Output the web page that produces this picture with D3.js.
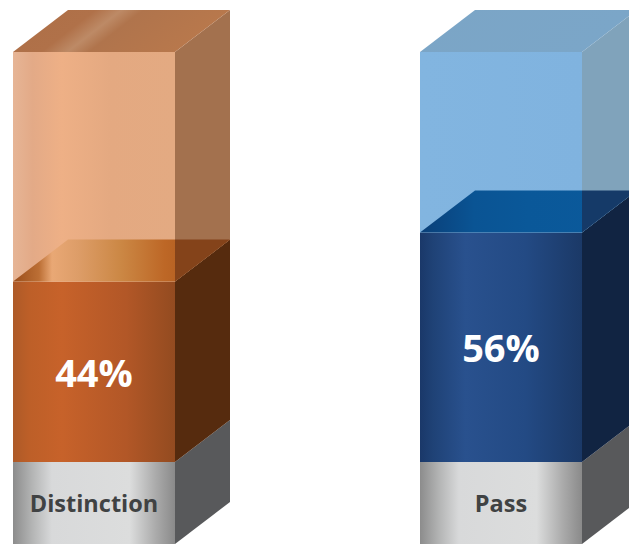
<!DOCTYPE html>
<html>
<head>
<meta charset="utf-8">
<script src="https://cdnjs.cloudflare.com/ajax/libs/d3/7.8.5/d3.min.js"></script>
<style>
  html, body { margin: 0; padding: 0; background: #fff; overflow: hidden; }
  svg { display: block; }
  text { font-family: "Open Sans", "Noto Sans", sans-serif; font-weight: 700; text-anchor: middle; }
</style>
</head>
<body>
<svg id="chart" width="629" height="544"></svg>
<script>
// Share of results per grade
const categories = ["Distinction", "Pass"];
const shares = [44, 56];
const labels = ["44%", "56%"];

// Cuboid proportions
const frontWidth = 162;
const depthX = 55;
const depthY = 42;
const plinthBottom = 544;

const x = d3.scaleOrdinal().domain(categories).range([13, 420]);
const y = d3.scaleLinear().domain([0, 100]).range([462, 52]);

const palettes = {
  Distinction: {
    glassFront: [[0, "#e6b596"], [0.12, "#e3aa87"], [0.3, "#eeb086"], [0.6, "#e4a981"], [1, "#e3aa82"]],
    glassTop: [[0, "#ad6f47"], [0.38, "#b07149"], [0.5, "#bd8a66"], [0.6, "#b0744c"], [1, "#b8784c"]],
    glassSide: "#a3714e",
    overlap: "#84431a",
    fillFront: [[0, "#ad5a28"], [0.1, "#bd5f28"], [0.3, "#c7622a"], [0.7, "#b25727"], [1, "#934b20"]],
    fillTop: [[0, "#9a4d1a"], [0.12, "#bc6f35"], [0.18, "#e9a875"], [0.3, "#dd9d68"], [0.5, "#cb8744"], [0.7, "#bd6726"], [1, "#a05018"]],
    fillSide: "#562b0e"
  },
  Pass: {
    glassFront: [[0, "#82b5e0"], [1, "#80b3df"]],
    glassTop: [[0, "#7ba5c6"], [1, "#7ba6c8"]],
    glassSide: "#80a3bb",
    overlap: "#153a68",
    fillFront: [[0, "#1a3869"], [0.08, "#1f4276"], [0.28, "#29518e"], [0.65, "#234a84"], [1, "#1b3967"]],
    fillTop: [[0, "#0a3f78"], [0.25, "#0a5494"], [0.5, "#0a5899"], [1, "#0b5a9c"]],
    fillSide: "#112442"
  }
};
const plinthStops = [[0, "#8c8c8c"], [0.12, "#b4b5b5"], [0.24, "#d8d9da"], [0.72, "#dcdddd"], [0.88, "#ababab"], [1, "#8a8a8a"]];
const plinthSide = "#58595b";

const svg = d3.select("#chart");
const defs = svg.append("defs");

// Horizontal gradient; an optional shear follows the receding top face
function gradient(id, stops, shear) {
  const g = defs.append("linearGradient").attr("id", id).attr("x1", 0).attr("x2", 1).attr("y1", 0).attr("y2", 0);
  if (shear) g.attr("gradientTransform", `matrix(1 0 ${-shear} 1 0 0)`);
  g.selectAll("stop").data(stops).join("stop")
    .attr("offset", d => d[0])
    .attr("stop-color", d => d[1]);
  return `url(#${id})`;
}

const line = d3.line();
const plinthFill = gradient("plinth", plinthStops);

categories.forEach((name, i) => {
  const p = palettes[name];
  const left = x(name);
  const right = left + frontWidth;
  const base = y(0), full = y(100), level = y(shares[i]);
  const g = svg.append("g").attr("class", "bar");
  const poly = (pts, fill) => g.append("path").attr("d", line(pts) + "Z").attr("fill", fill);

  // Plinth carrying the category name
  poly([[left, base], [right, base], [right, plinthBottom], [left, plinthBottom]], plinthFill);
  poly([[right, base], [right + depthX, base - depthY], [right + depthX, plinthBottom - depthY], [right, plinthBottom]], plinthSide);

  // Filled portion of the column
  poly([[left, level], [right, level], [right, base], [left, base]], gradient(`fillFront${i}`, p.fillFront));
  poly([[right, level], [right + depthX, level - depthY], [right + depthX, base - depthY], [right, base]], p.fillSide);

  // Glass shell above the fill, with the fill's top face showing through
  poly([[left, full], [right, full], [right, level], [left, level]], gradient(`glassFront${i}`, p.glassFront));
  poly([[left, level], [right, level], [right + depthX, level - depthY], [left + depthX, level - depthY]], gradient(`fillTop${i}`, p.fillTop));
  poly([[right, full], [right + depthX, full - depthY], [right + depthX, level - depthY], [right, level]], p.glassSide);
  poly([[right, level], [right + depthX, level - depthY], [right, level - depthY]], p.overlap);
  poly([[left, full], [left + depthX, full - depthY], [right + depthX, full - depthY], [right, full]], gradient(`glassTop${i}`, p.glassTop, 0.25));

  // Value and category text
  g.append("text")
    .attr("x", left + frontWidth / 2)
    .attr("y", (level + base) / 2 + 15)
    .attr("font-size", 38)
    .attr("fill", "#fff")
    .text(labels[i]);
  g.append("text")
    .attr("x", left + frontWidth / 2)
    .attr("y", 512)
    .attr("font-size", 23.5)
    .attr("fill", "#404243")
    .text(name);
});
</script>
</body>
</html>
